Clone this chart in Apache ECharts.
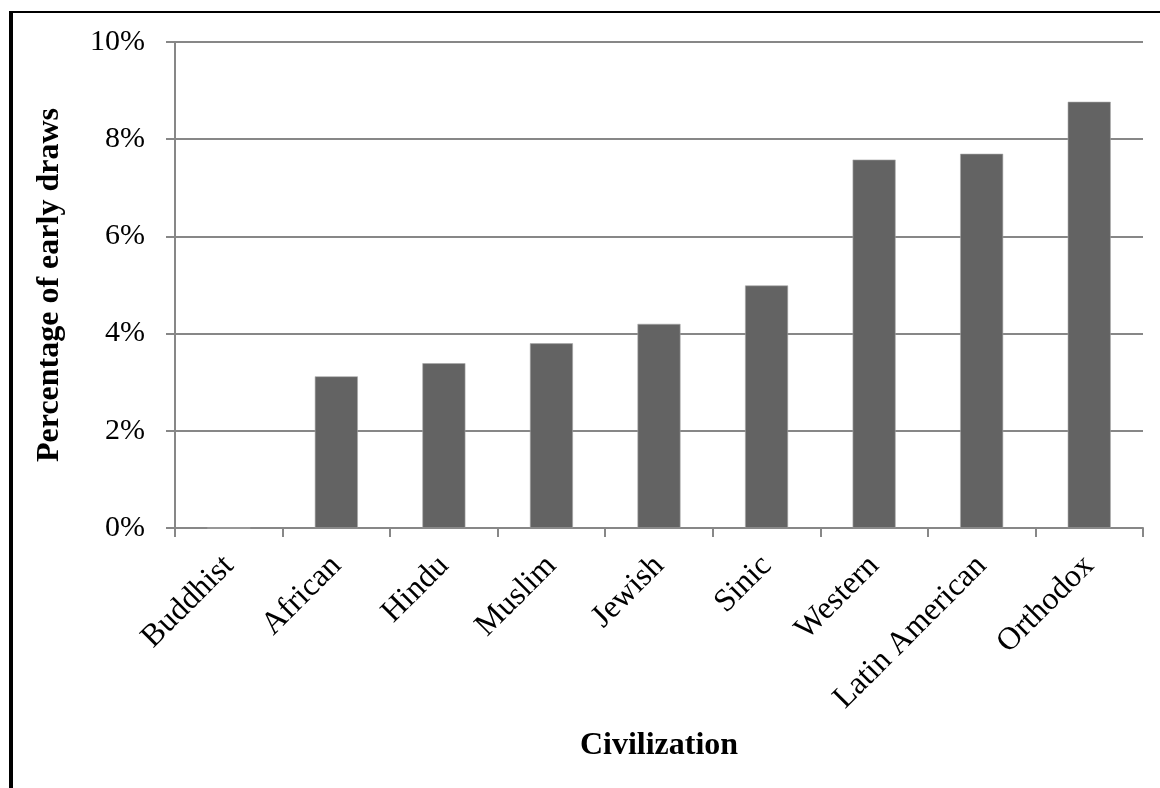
<!DOCTYPE html>
<html>
<head>
<meta charset="utf-8">
<script src="https://cdn.jsdelivr.net/npm/echarts@6/dist/echarts.min.js"></script>
<style>
html,body{margin:0;padding:0;background:#fff;}
#chart{width:1160px;height:788px;}
</style>
</head>
<body>
<div id="chart"></div>
<script>
const categories = ['Buddhist','African','Hindu','Muslim','Jewish','Sinic','Western','Latin American','Orthodox'];
const values = [0, 3.12, 3.39, 3.80, 4.20, 4.99, 7.58, 7.70, 8.77];
const yTicks = [0, 2, 4, 6, 8, 10];

const FONT = "'Liberation Serif', 'Times New Roman', serif";
const GRAY = '#878787';

const chart = echarts.init(document.getElementById('chart'), null, {renderer:'canvas'});
chart.setOption({
  animation: false,
  backgroundColor: '#fff',
  grid: {left: 175, right: 17, top: 42, bottom: 260, containLabel: false},
  xAxis: {
    type: 'category',
    data: categories,
    boundaryGap: true,
    name: 'Civilization',
    nameLocation: 'middle',
    nameGap: 202,
    nameTextStyle: {fontFamily: FONT, fontWeight: 'bold', fontSize: 32, color: '#000'},
    axisLine: {show: true, lineStyle: {color: GRAY, width: 2}},
    axisTick: {show: true, alignWithLabel: false, length: 9, lineStyle: {color: GRAY, width: 2}},
    axisLabel: {rotate: 45, margin: 33, fontFamily: FONT, fontSize: 32, color: '#000', interval: 0},
    splitLine: {show: false}
  },
  yAxis: {
    type: 'value',
    min: yTicks[0],
    max: yTicks[yTicks.length - 1],
    interval: yTicks[1] - yTicks[0],
    name: 'Percentage of early draws',
    nameLocation: 'middle',
    nameGap: 109,
    nameTextStyle: {fontFamily: FONT, fontWeight: 'bold', fontSize: 32, color: '#000'},
    axisLine: {show: true, lineStyle: {color: GRAY, width: 2}},
    axisTick: {show: true, length: 9, lineStyle: {color: GRAY, width: 2}},
    axisLabel: {formatter: '{value}%', margin: 30, fontFamily: FONT, fontSize: 30, color: '#000'},
    splitLine: {show: true, lineStyle: {color: GRAY, width: 2}}
  },
  series: [{
    type: 'bar',
    data: values,
    barWidth: 43,
    itemStyle: {color: '#636363', borderColor: '#a8a8a8', borderWidth: 0.6},
    z: 3
  }],
  graphic: [
    {type: 'line', shape: {x1: 9, y1: 12, x2: 1160, y2: 12}, style: {stroke: '#000', lineWidth: 2}, z: 10},
    {type: 'line', shape: {x1: 11, y1: 11, x2: 11, y2: 788}, style: {stroke: '#000', lineWidth: 4}, z: 10}
  ]
});
</script>
</body>
</html>
